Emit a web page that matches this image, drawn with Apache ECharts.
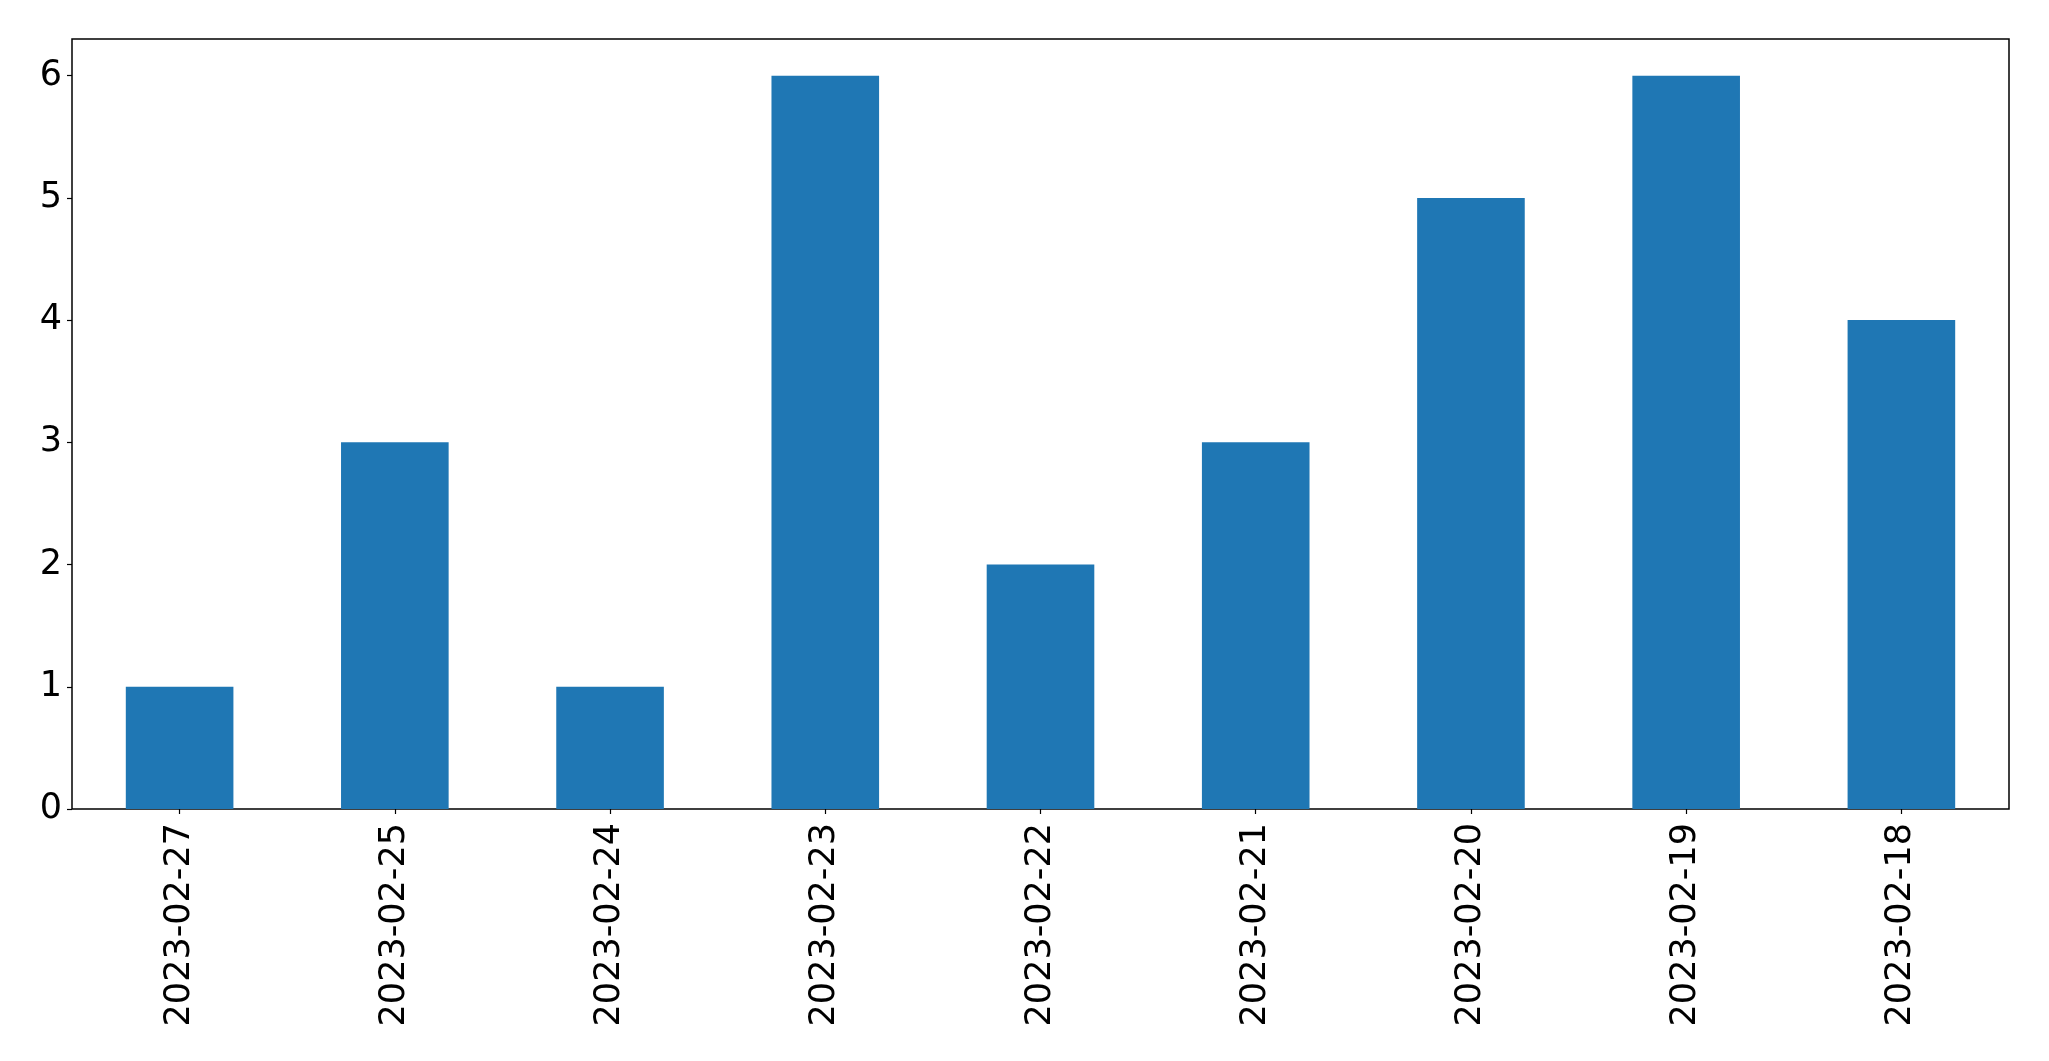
<!DOCTYPE html>
<html>
<head>
<meta charset="utf-8">
<script src="https://cdn.jsdelivr.net/npm/echarts@6/dist/echarts.min.js"></script>
<style>html,body{margin:0;padding:0;background:#fff;}#c{width:2049px;height:1061px;}</style>
</head>
<body>
<div id="c"></div>
<script>
const categories = ['2023-02-27','2023-02-25','2023-02-24','2023-02-23','2023-02-22','2023-02-21','2023-02-20','2023-02-19','2023-02-18'];
const values = [1,3,1,6,2,3,5,6,4];
const yTicks = [0,1,2,3,4,5,6];

const chart = echarts.init(document.getElementById('c'), null, {renderer:'canvas'});
chart.setOption({
  animation:false,
  backgroundColor:'#ffffff',
  grid:{left:72,right:40,top:39,bottom:252,show:true,borderColor:'#000',borderWidth:1.5,backgroundColor:'transparent'},
  xAxis:{
    type:'category',
    data:categories,
    boundaryGap:true,
    axisLine:{show:false},
    axisTick:{show:true,alignWithLabel:true,length:5,lineStyle:{color:'#000',width:1.2}},
    axisLabel:{rotate:90,color:'#000',fontSize:35,fontFamily:'DejaVu Sans',margin:14,padding:[8,0,0,0]}
  },
  yAxis:{
    type:'value',
    min:0,max:6.3,interval:1,
    splitLine:{show:false},
    axisLine:{show:false},
    axisTick:{show:true,length:5,lineStyle:{color:'#000',width:1.2},customValues:yTicks},
    axisLabel:{color:'#000',fontSize:35,fontFamily:'DejaVu Sans',margin:10,padding:[14,0,0,0],customValues:yTicks}
  },
  series:[{
    type:'bar',
    data:values,
    barWidth:'50%',
    itemStyle:{color:'#1f77b4'}
  }]
});
</script>
</body>
</html>
